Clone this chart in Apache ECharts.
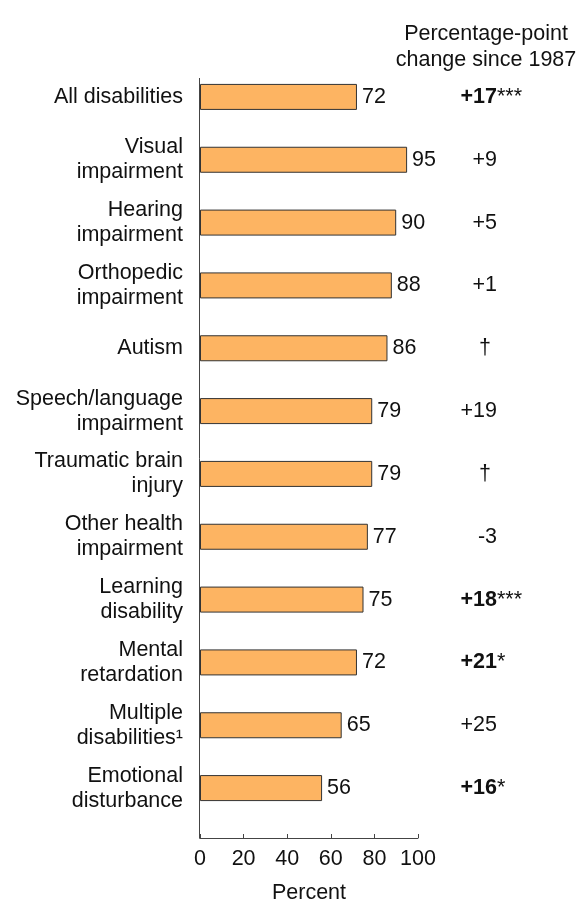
<!DOCTYPE html>
<html>
<head>
<meta charset="utf-8">
<script src="https://cdn.jsdelivr.net/npm/echarts@6/dist/echarts.min.js"></script>
<style>html,body{margin:0;padding:0;background:#fff;}#c{width:580px;height:903px;}</style>
</head>
<body>
<div id="c"></div>
<script>
const categories = ['All disabilities','Visual\nimpairment','Hearing\nimpairment','Orthopedic\nimpairment','Autism','Speech/language\nimpairment','Traumatic brain\ninjury','Other health\nimpairment','Learning\ndisability','Mental\nretardation','Multiple\ndisabilities¹','Emotional\ndisturbance'];
const percents = [72,95,90,88,86,79,79,77,75,72,65,56];
const changes = ['+17','+9','+5','+1','†','+19','†','-3','+18','+21','+25','+16'];
const significance = ['***','','','','','','','','***','*','','*'];
const xMin = 0, xMax = 100, xInterval = 20;

const FONT = 'Liberation Sans, Arial, sans-serif';
const FS = 21.5;
const chart = echarts.init(document.getElementById('c'));
chart.setOption({
  animation: false,
  textStyle: { fontFamily: FONT },
  title: {
    text: 'Percentage-point\nchange since 1987',
    left: 481, top: 16, textAlign: 'center',
    textStyle: { fontFamily: FONT, fontSize: FS, fontWeight: 'normal', color: '#111', lineHeight: 26 }
  },
  grid: { left: 200, width: 218, top: 65.5, height: 754, containLabel: false, outerBoundsMode: 'none' },
  graphic: [{
    type: 'line', silent: true,
    shape: { x1: 199.5, y1: 78, x2: 199.5, y2: 838.5 },
    style: { stroke: '#444', lineWidth: 1 }
  }],
  xAxis: {
    type: 'value', min: xMin, max: xMax, interval: xInterval, offset: 18.5,
    axisLine: { show: true, lineStyle: { color: '#444' } },
    axisTick: { show: true, inside: true, length: 4, lineStyle: { color: '#444' } },
    splitLine: { show: false },
    axisLabel: { fontSize: FS, color: '#111', margin: 10, fontFamily: FONT },
    name: 'Percent', nameLocation: 'middle', nameGap: 44,
    nameTextStyle: { fontSize: FS, color: '#111', fontFamily: FONT }
  },
  yAxis: [{
    type: 'category', inverse: true, data: categories,
    axisLine: { show: false }, axisTick: { show: false },
    axisLabel: { fontSize: FS, lineHeight: 25, color: '#111', margin: 17, fontFamily: FONT }
  }, {
    type: 'category', inverse: true, position: 'right', data: changes,
    axisLine: { show: false }, axisTick: { show: false },
    axisLabel: {
      align: 'right', margin: 79, fontSize: FS, color: '#111', fontFamily: FONT,
      formatter: (v, i) => significance[i] ? '{b|' + v + '}' : (v === '†' ? '{d|' + v + '}' : v),
      rich: {
        b: { fontWeight: 'bold', fontSize: FS, color: '#111', fontFamily: FONT },
        d: { fontSize: FS, color: '#111', fontFamily: FONT, padding: [0, 6, 0, 0] }
      }
    }
  }, {
    type: 'category', inverse: true, position: 'right', data: significance,
    axisLine: { show: false }, axisTick: { show: false },
    axisLabel: { align: 'left', margin: 79, fontSize: FS, color: '#111', fontFamily: FONT }
  }],
  series: [{
    type: 'bar', yAxisIndex: 0, data: percents, barWidth: 26,
    itemStyle: { color: '#FDB462', borderColor: '#333', borderWidth: 1 },
    label: { show: true, position: 'right', distance: 5, fontSize: FS, color: '#111', fontFamily: FONT }
  }]
});
</script>
</body>
</html>
